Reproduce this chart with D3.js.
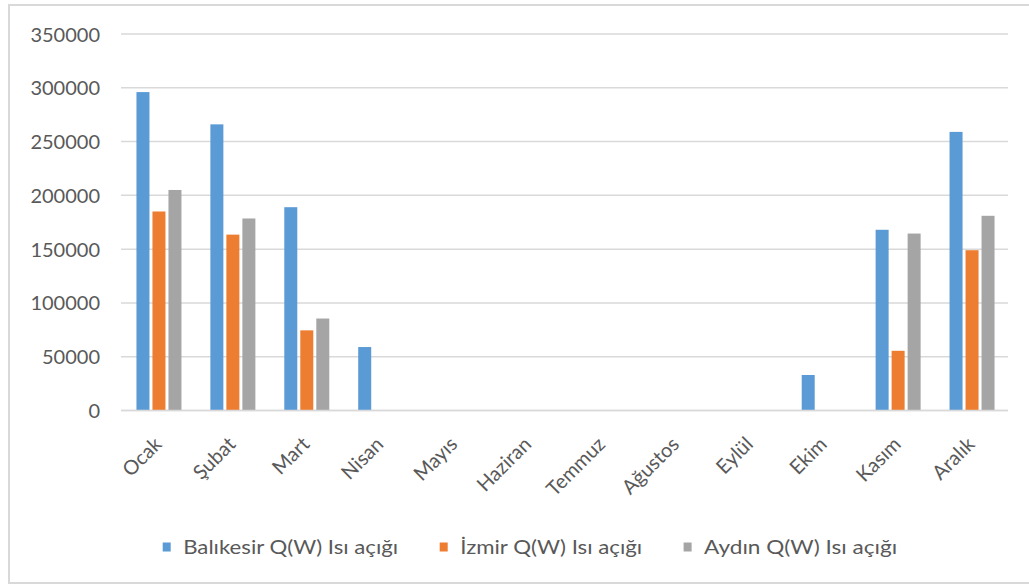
<!DOCTYPE html>
<html>
<head>
<meta charset="utf-8">
<script src="https://cdn.jsdelivr.net/npm/d3@7"></script>
<style>
  html, body { margin: 0; padding: 0; background: #fff; }
  svg { display: block; font-family: Lato, "Open Sans", sans-serif; }
</style>
</head>
<body>
<svg id="chart" width="1029" height="585"></svg>
<script>
// Monthly heat deficit, Q(W), per city
const months = ["Ocak", "Şubat", "Mart", "Nisan", "Mayıs", "Haziran", "Temmuz", "Ağustos", "Eylül", "Ekim", "Kasım", "Aralık"];
const balikesir = [296000, 266000, 189000, 59000, 0, 0, 0, 0, 0, 33000, 168000, 259000];
const izmir     = [185000, 163500, 74500, 0, 0, 0, 0, 0, 0, 0, 55500, 149000];
const aydin     = [205000, 178500, 85500, 0, 0, 0, 0, 0, 0, 0, 164500, 181000];
const seriesNames = ["Balıkesir Q(W) Isı açığı", "İzmir Q(W) Isı açığı", "Aydın Q(W) Isı açığı"];
const seriesColors = ["#5b9bd5", "#ed7d31", "#a5a5a5"];
const yTicks = [0, 50000, 100000, 150000, 200000, 250000, 300000, 350000];

const svg = d3.select("#chart");

// chart area frame
svg.append("rect")
  .attr("x", 9).attr("y", 5).attr("width", 1040).attr("height", 578)
  .attr("fill", "#fff").attr("stroke", "#d9d9d9").attr("stroke-width", 2);

const plot = { left: 121, right: 1008, top: 34, bottom: 410.5 };

const x = d3.scaleBand().domain(months).range([plot.left, plot.right]).paddingInner(0).paddingOuter(0);
const y = d3.scaleLinear().domain([0, 350000]).range([plot.bottom, plot.top]);

// horizontal gridlines
svg.append("g")
  .selectAll("line")
  .data(yTicks)
  .join("line")
  .attr("x1", plot.left).attr("x2", plot.right)
  .attr("y1", d => y(d)).attr("y2", d => y(d))
  .attr("stroke", "#d9d9d9").attr("stroke-width", 1.5);

// y axis labels
const yAxis = d3.axisLeft(y).tickValues(yTicks).tickSize(0).tickPadding(0).tickFormat(d3.format("d"));
const yg = svg.append("g").attr("transform", `translate(${plot.left - 21},0)`).call(yAxis);
yg.select(".domain").remove();
yg.selectAll("text").attr("fill", "#595959").attr("dy", "0.35em")
  .style("font-size", "20px").style("font-family", "Lato, sans-serif");

// grouped bars
const series = [balikesir, izmir, aydin];
const sub = d3.scaleBand().domain(d3.range(series.length)).range([-21.5, 23.5]).paddingInner(0.1875);

series.forEach((vals, si) => {
  svg.append("g")
    .selectAll("rect")
    .data(months.map((m, i) => ({ m, v: vals[i] })).filter(d => d.v > 0))
    .join("rect")
    .attr("x", d => x(d.m) + x.bandwidth() / 2 + sub(si))
    .attr("y", d => y(d.v))
    .attr("width", sub.bandwidth())
    .attr("height", d => y(0) - y(d.v))
    .attr("fill", seriesColors[si]);
});

// baseline
svg.append("line")
  .attr("x1", plot.left).attr("x2", plot.right)
  .attr("y1", y(0)).attr("y2", y(0))
  .attr("stroke", "#d9d9d9").attr("stroke-width", 1.5);

// rotated month labels
svg.append("g")
  .selectAll("text")
  .data(months)
  .join("text")
  .attr("transform", d => `translate(${x(d) + x.bandwidth() / 2 + 5},${plot.bottom + 35}) rotate(-45)`)
  .attr("text-anchor", "end")
  .attr("fill", "#595959")
  .style("font-size", "20px")
  .text(d => d);

// legend
const legendX = [162.7, 439.7, 683.6];
const legendLen = [215, 182, 193];
const legend = svg.append("g");
seriesNames.forEach((name, i) => {
  legend.append("rect")
    .attr("x", legendX[i]).attr("y", 542.5).attr("width", 8).attr("height", 9)
    .attr("fill", seriesColors[i]);
  legend.append("text")
    .attr("x", legendX[i] + 20.5).attr("y", 554)
    .attr("fill", "#595959")
    .attr("textLength", legendLen[i])
    .attr("lengthAdjust", "spacingAndGlyphs")
    .style("font-size", "20px")
    .text(name);
});
</script>
</body>
</html>
